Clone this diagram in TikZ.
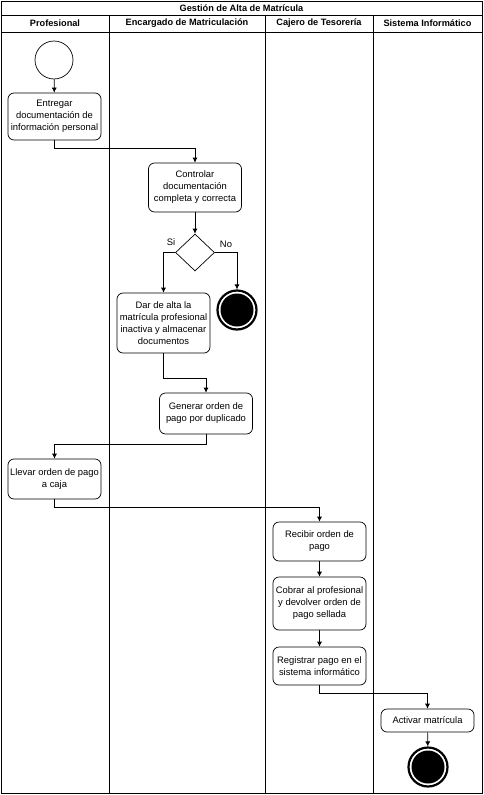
\documentclass[tikz,border=0pt]{standalone}
\usepackage{fontspec}
\setmainfont{Liberation Sans}
\usetikzlibrary{arrows.meta,shapes.geometric}

\tikzset{
    actbox/.style={draw, rounded corners=6pt, align=center, inner sep=0pt,
                   minimum width=93pt, font=\fontsize{9.4}{12}\selectfont},
    startnode/.style={draw, circle, minimum size=38pt, inner sep=0pt},
    endnode/.style={draw, circle, minimum size=39pt, inner sep=0pt, line width=2.2pt,
                    path picture={\fill (path picture bounding box.center) circle (16.5pt);}},
    decision/.style={draw, diamond, minimum width=39pt, minimum height=37pt, inner sep=0pt},
    lanehead/.style={font=\bfseries\fontsize{9.2}{11}\selectfont}
}

\begin{document}
\begin{tikzpicture}[x=1pt, y=-1pt, line width=0.7pt, >={Latex[length=5pt,width=5pt]}]
    \useasboundingbox (0,0) rectangle (483,795);

    % swimlanes
    \draw (1,1) rectangle (482,793);
    \draw (1,15) -- (482,15) (1,32) -- (482,32);
    \draw (109,15) -- (109,793) (265,15) -- (265,793) (373,15) -- (373,793);
    \node[lanehead] (title) at (241.5,8) {Gestión de Alta de Matrícula};
    \node[lanehead] (L1) at (55,23.5) {Profesional};
    \node[lanehead] (L2) at (187,23.5) {Encargado de Matriculación};
    \node[lanehead] (L3) at (319,23.5) {Cajero de Tesorería};
    \node[lanehead] (L4) at (427.5,23.5) {Sistema Informático};

    % nodes
    \node[startnode] (inicio) at (54,60) {};
    \node[actbox, minimum height=47pt] (entregar) at (54.5,116.5)
        {Entregar\\documentación de\\información personal};
    \node[actbox, minimum height=49pt] (controlar) at (195,187.5)
        {Controlar\\documentación\\completa y correcta};
    \node[decision] (dec) at (195,252.5) {};
    \node[actbox, minimum height=60pt] (alta) at (163.5,323)
        {Dar de alta la\\matrícula profesional\\inactiva y almacenar\\documentos};
    \node[endnode] (fin1) at (237,310) {};
    \node[actbox, minimum height=41pt] (generar) at (206,413.5)
        {Generar orden de\\pago por duplicado};
    \node[actbox, minimum height=40pt] (llevar) at (54.5,479)
        {Llevar orden de pago\\a caja};
    \node[actbox, minimum height=39pt] (recibir) at (319.5,541.5)
        {Recibir orden de\\pago};
    \node[actbox, minimum height=53pt] (cobrar) at (319.5,603.5)
        {Cobrar al profesional\\y devolver orden de\\pago sellada};
    \node[actbox, minimum height=38pt] (registrar) at (319.5,666)
        {Registrar pago en el\\sistema informático};
    \node[actbox, minimum height=23pt] (activar) at (427.5,720.5)
        {Activar matrícula};
    \node[endnode] (fin2) at (428,767) {};

    \node[font=\fontsize{9.4}{11}\selectfont] (si) at (171,242) {Si};
    \node[font=\fontsize{9.4}{11}\selectfont] (no) at (226,244) {No};

    % flow
    \draw [->] (inicio) -- (entregar);
    \draw [->] (entregar.south) -- ++(0,8) -| (controlar.north);
    \draw [->] (controlar) -- (dec);
    \draw [->] (dec.west) -| (alta.north);
    \draw [->] (dec.east) -| (fin1.north);
    \draw [->] (alta.south) -- ++(0,25) -| (generar.north);
    \draw [->] (generar.south) -- ++(0,10) -| (llevar.north);
    \draw [->] (llevar.south) -- ++(0,8) -| (recibir.north);
    \draw [->] (recibir) -- (cobrar);
    \draw [->] (cobrar) -- (registrar);
    \draw [->] (registrar.south) -- ++(0,8) -| (activar.north);
    \draw [->] (activar) -- (fin2);
\end{tikzpicture}
\end{document}
